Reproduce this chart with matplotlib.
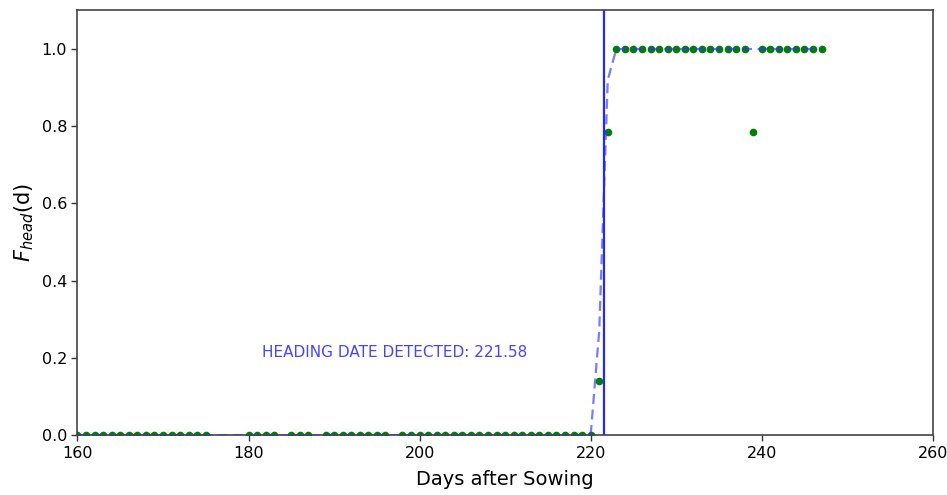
import matplotlib
matplotlib.use("Agg")
import matplotlib.pyplot as plt

# observed heading fraction per day after sowing
obs_days = (list(range(160, 176)) + list(range(180, 184)) + list(range(185, 188))
            + list(range(189, 197)) + list(range(198, 221))
            + [221, 222] + list(range(223, 239)) + [239] + list(range(240, 248)))
obs_vals = ([0.0] * 16 + [0.0] * 4 + [0.0] * 3 + [0.0] * 8 + [0.0] * 23
            + [0.14, 0.785] + [1.0] * 16 + [0.785] + [1.0] * 8)

# fitted curve, one value per day
fit_days = list(range(160, 248))
fit_vals = [0.0] * 61 + [0.27, 0.92] + [1.0] * 25

heading_date = 221.58

fig = plt.figure(figsize=(9.47, 4.95), dpi=100)
ax = fig.add_axes([0.0818, 0.121, 0.9032, 0.858])

ax.plot(obs_days, obs_vals, 'o', color='green', markersize=4.5, zorder=2)
ax.plot(fit_days, fit_vals, '--', color='#3333ff', alpha=0.65, linewidth=1.6,
        dashes=(4.5, 2.5), zorder=3)
ax.axvline(heading_date, color='#2626ff', linewidth=1.6, zorder=4)
ax.text(197.1, 0.215, 'HEADING DATE DETECTED: %.2f' % heading_date,
        color='#4545ff', fontsize=11, ha='center', va='center')

ax.set_xlim(160, 260)
ax.set_ylim(0, 1.1)
ax.set_xticks([160, 180, 200, 220, 240, 260])
ax.set_yticks([0.0, 0.2, 0.4, 0.6, 0.8, 1.0])
ax.tick_params(labelsize=11.5, length=4, width=1, color='#333333')
ax.set_xlabel('Days after Sowing', fontsize=14, labelpad=7)
ax.set_ylabel(r'$F_{head}$(d)', fontsize=15)
for s in ax.spines.values():
    s.set_color('#444444')
    s.set_linewidth(1.2)

fig.savefig('out.png', dpi=100)
